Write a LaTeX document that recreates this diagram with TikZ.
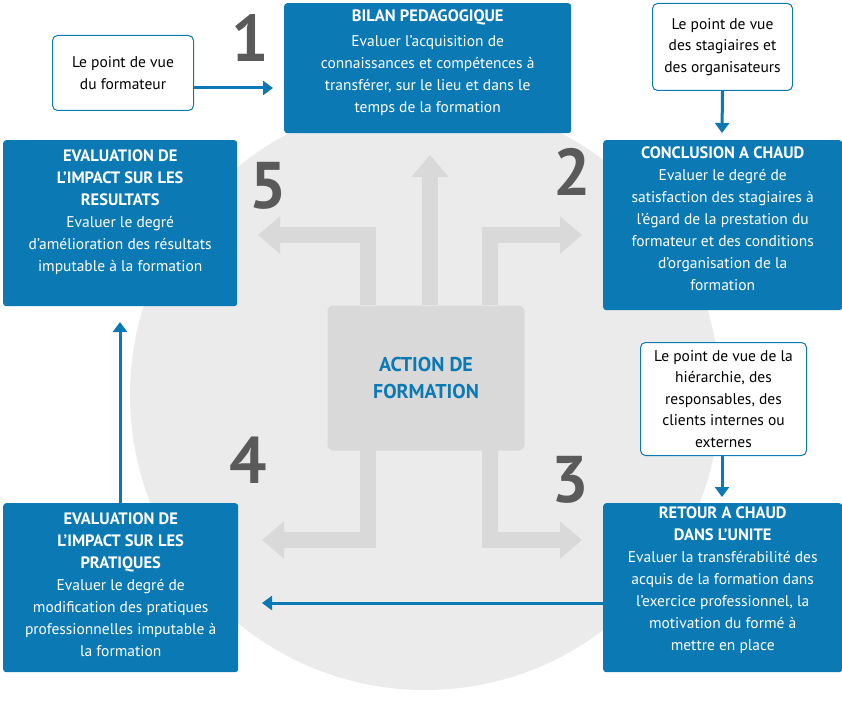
\documentclass[tikz,border=0pt]{standalone}
\usepackage{fontspec}
\setmainfont{PT Sans}
\usetikzlibrary{arrows.meta}
\definecolor{bl}{HTML}{0A79B4}
\definecolor{cg}{HTML}{EBEBEB}
\definecolor{ag}{HTML}{D9D9D9}
\definecolor{ng}{HTML}{5A5A5A}
\begin{document}
\begin{tikzpicture}[x=1pt,y=-1pt,
  bbox/.style={fill=bl,rounded corners=3pt,inner sep=0pt},
  btxt/.style={text=white,align=center,font=\fontsize{15.5}{22}\selectfont,anchor=north,inner sep=0pt},
  wbox/.style={draw=bl,line width=1pt,fill=white,rounded corners=5pt,align=center,font=\fontsize{15.5}{21.5}\selectfont},
  num/.style={text=ng,font=\fontsize{66}{66}\selectfont\bfseries},
  barrow/.style={draw=bl,line width=3pt,-{Triangle[length=10pt,width=14pt]}},
  garrow/.style={draw=ag,line width=16pt,-{Triangle[length=22pt,width=36pt]}}]
\newcommand\ttl[1]{\textbf{\fontsize{16.5}{22}\selectfont #1}}
\useasboundingbox (0,0) rectangle (842,722);
\fill[cg] (425,395) circle (295);
% gray arrows
\draw[garrow] (430,305) -- (430,155);
\draw[garrow] (368,305) -- (368,235) -- (258,235);
\draw[garrow] (490,305) -- (490,235) -- (582,235);
\draw[garrow] (368,450) -- (368,540) -- (262,540);
\draw[garrow] (490,450) -- (490,540) -- (582,540);
\node (c) [fill=ag,rounded corners=6pt,minimum width=197pt,minimum height=145pt,text=bl,font=\fontsize{20}{27}\selectfont\bfseries,align=center] at (426,378) {ACTION DE\\FORMATION};
% blue boxes
\node (b1) [bbox,minimum width=287pt,minimum height=130pt,anchor=north west] at (284,3) {};
\node[btxt] at ([yshift=-7pt]b1.north) {\ttl{BILAN PEDAGOGIQUE}\\[3pt]Evaluer l’acquisition de\\connaissances et compétences à\\transférer, sur le lieu et dans le\\temps de la formation};
\node (b2) [bbox,minimum width=239pt,minimum height=170pt,anchor=north west] at (603,140) {};
\node[btxt] at ([yshift=-7pt]b2.north) {\ttl{CONCLUSION A CHAUD}\\Evaluer le degré de\\satisfaction des stagiaires à\\l’égard de la prestation du\\formateur et des conditions\\d’organisation de la\\formation};
\node (b5) [bbox,minimum width=234pt,minimum height=166pt,anchor=north west] at (3,140) {};
\node[btxt] at ([yshift=-10pt]b5.north) {\ttl{EVALUATION DE}\\\ttl{L’IMPACT SUR LES}\\\ttl{RESULTATS}\\Evaluer le degré\\d’amélioration des résultats\\imputable à la formation};
\node (b3) [bbox,minimum width=239pt,minimum height=169pt,anchor=north west] at (603,503) {};
\node[btxt] at ([yshift=-4pt]b3.north) {\ttl{RETOUR A CHAUD}\\\ttl{DANS L’UNITE}\\Evaluer la transférabilité des\\acquis de la formation dans\\l’exercice professionnel, la\\motivation du formé à\\mettre en place};
\node (b4) [bbox,minimum width=235pt,minimum height=169pt,anchor=north west] at (3,503) {};
\node[btxt] at ([yshift=-10pt]b4.north) {\ttl{EVALUATION DE}\\\ttl{L’IMPACT SUR LES}\\\ttl{PRATIQUES}\\Evaluer le degré de\\modification des pratiques\\professionnelles imputable à\\la formation};
% white callouts
\node (w1) [wbox,minimum width=141pt,minimum height=75pt,anchor=north west] at (52,35) {Le point de vue\\du formateur};
\node (w2) [wbox,minimum width=140pt,minimum height=87pt,anchor=north west] at (652,3) {Le point de vue\\des stagiaires et\\des organisateurs};
\node (w3) [wbox,minimum width=166pt,minimum height=113pt,anchor=north west] at (640,342) {Le point de vue de la\\hiérarchie, des\\responsables, des\\clients internes ou\\externes};
% blue arrows
\draw[barrow] (w1.east |- 0,88) -- (273,88);
\draw[barrow] (w2.south) -- (722,133);
\draw[barrow] (w3.south -| 722,0) -- (722,497);
\draw[barrow] (b3.west |- 0,603) -- (262,603);
\draw[barrow] (b4.north -| 120,0) -- (120,322);
% numbers
\node[num] at (250,38) {1};
\node[num] at (572,172) {2};
\node[num] at (570,480) {3};
\node[num] at (248,460) {4};
\node[num] at (268,186) {5};
\end{tikzpicture}
\end{document}
